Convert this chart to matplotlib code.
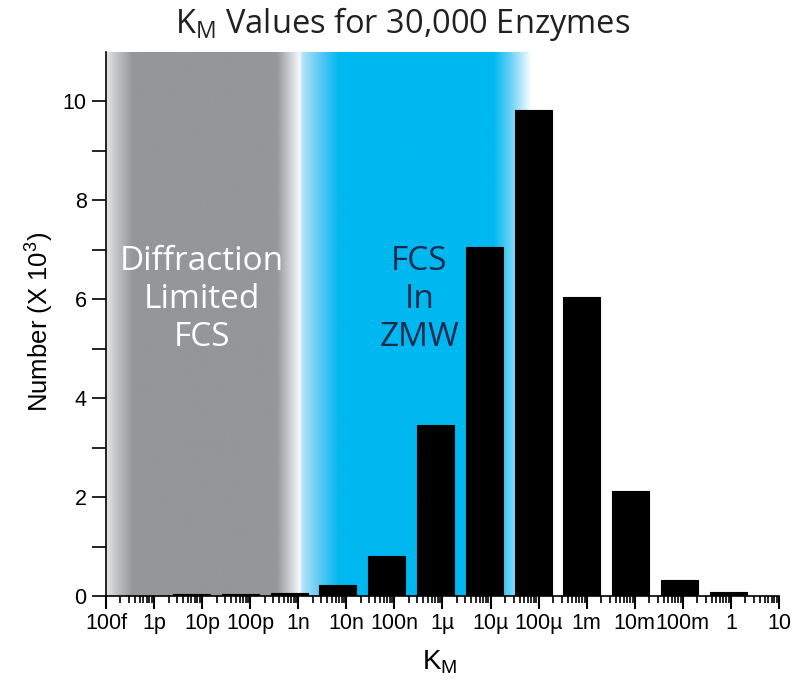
import numpy as np
import matplotlib.pyplot as plt
from matplotlib.ticker import FixedLocator

# histogram of K_M values, one bin per decade (counts in thousands)
bin_start = -11.22          # log10 centre of the first populated bin
bin_step = 1.015            # log10 spacing between bins
counts = [0.05, 0.05, 0.07, 0.22, 0.81, 3.45, 7.05, 9.82, 6.05, 2.13, 0.32, 0.08]

decade_labels = ['100f', '1p', '10p', '100p', '1n', '10n', '100n', '1\u00b5',
                 '10\u00b5', '100\u00b5', '1m', '10m', '100m', '1', '10']
decades = np.arange(-13, 2)

GRAY = (148, 150, 153)
BLUE = (0, 184, 240)
WHITE = (255, 255, 255)

# colour stops (log10 K_M, rgb) for the two measurement ranges
gray_stops = [(-13.0, (228, 229, 231)), (-12.75, (190, 191, 194)), (-12.45, GRAY),
              (-9.45, GRAY), (-9.2, (200, 202, 205)), (-8.98, (245, 246, 248))]
blue_stops = [(-8.97, (235, 246, 253)), (-8.9, (175, 226, 248)), (-8.5, (80, 198, 244)),
              (-8.15, BLUE), (-4.93, BLUE), (-4.55, (115, 212, 246)), (-4.15, WHITE)]


def band_image(stops, xs):
    pos = [s[0] for s in stops]
    img = np.zeros((1, len(xs), 4))
    for c in range(3):
        img[0, :, c] = np.interp(xs, pos, [s[1][c] / 255 for s in stops])
    img[0, :, 3] = ((xs >= pos[0]) & (xs <= pos[-1])).astype(float)
    return img


fig = plt.figure(figsize=(8.03, 6.9), dpi=100)
ax = fig.add_axes([106 / 803, 1 - 596 / 690, 673 / 803, 544 / 690])

xs = np.linspace(-13, 1, 2000)
for stops in (gray_stops, blue_stops):
    ax.imshow(band_image(stops, xs), extent=[-13, 1, 0, 11], aspect='auto',
              interpolation='bilinear', zorder=0)

centers = bin_start + bin_step * np.arange(len(counts))
ax.bar(centers, counts, width=0.77, color='black', edgecolor='black', linewidth=0.8, zorder=2)

ax.set_xlim(-13, 1)
ax.set_ylim(0, 11)

ax.spines['top'].set_visible(False)
ax.spines['right'].set_visible(False)
ax.spines['left'].set_linewidth(1.2)
ax.spines['bottom'].set_linewidth(1.2)

ax.set_xticks(decades)
ax.set_xticklabels(decade_labels, fontfamily='Liberation Sans', fontsize=15.5)
minor_x = [d + np.log10(k) for d in decades[:-1] for k in range(2, 10)]
ax.xaxis.set_minor_locator(FixedLocator(minor_x))
ax.tick_params(axis='x', which='major', direction='out', length=9, width=1.5, pad=3)
ax.tick_params(axis='x', which='minor', direction='out', length=5, width=1.2)

ax.set_yticks(np.arange(0, 11, 2))
ax.set_yticklabels([str(v) for v in range(0, 11, 2)], fontfamily='Liberation Sans', fontsize=15.5)
ax.yaxis.set_minor_locator(FixedLocator(np.arange(1, 11, 2)))
ax.tick_params(axis='y', which='both', direction='out', length=10, width=1.2, pad=4)

ax.text(-11.0, 6.0, 'Diffraction\nLimited\nFCS', color='white', fontfamily='Open Sans',
        fontsize=24, ha='center', va='center', linespacing=1.2, zorder=1)
ax.text(-6.48, 6.0, 'FCS\nIn\nZMW', color=(0.1, 0.17, 0.3), fontfamily='Open Sans',
        fontsize=24, ha='center', va='center', linespacing=1.2, zorder=1)

fig.text(40 / 803, 1 - 322 / 690, r'Number (X $\mathregular{10^3}$)', rotation=90,
         fontfamily='Liberation Sans', fontsize=18.5, ha='center', va='center')
fig.text(440 / 803, 1 - 662 / 690, r'$\mathregular{K_M}$', fontfamily='Liberation Sans',
         fontsize=20, ha='center', va='center')
fig.text(403 / 803, 1 - 24 / 690, r'$\mathregular{K_M}$ Values for 30,000 Enzymes',
         fontfamily='Open Sans', fontsize=23.5, ha='center', va='center', color=(0.13, 0.13, 0.13))

plt.savefig('out.png', dpi=100)
